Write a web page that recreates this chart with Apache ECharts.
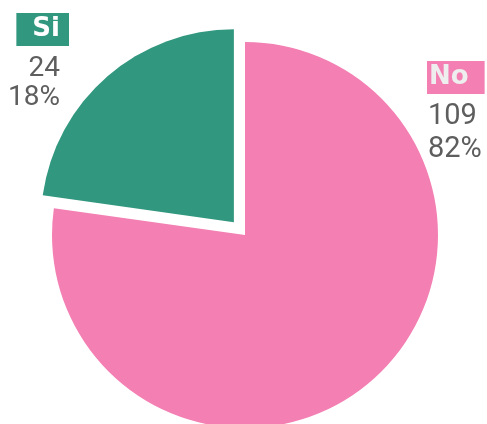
<!DOCTYPE html>
<html>
<head>
<meta charset="utf-8">
<script src="https://cdn.jsdelivr.net/npm/echarts@6/dist/echarts.min.js"></script>
<style>html,body{margin:0;padding:0;background:#fff;}#c{width:487px;height:424px;}</style>
</head>
<body>
<div id="c"></div>
<script>
const categories = ['No', 'Si'];
const values = [109, 24];
const percents = ['82%', '18%'];
const colors = ['#F37FB3', '#32977F'];

const chart = echarts.init(document.getElementById('c'), null, {renderer: 'canvas'});
const nameFont = 'DejaVu Sans';
const valFont = 'Roboto';

function richFor(i, side) {
  const left = side === 'left';
  const padR = left ? 9 : 0;
  const nPad = left ? [0, 9, 0, 16] : [0, 16, 0, 2];
  const fs = left ? 28 : 29;
  return {
    n: {fontFamily: nameFont, fontWeight: 'bold', fontSize: 26, height: 33, lineHeight: 33,
        color: i === 0 ? '#EEEEEE' : '#FFFFFF', backgroundColor: colors[i], padding: nPad},
    v1: {fontFamily: valFont, fontWeight: 'normal', fontSize: fs, lineHeight: left ? 45 : 45,
         color: '#5E5E5E', padding: [0, padR, 0, 1]},
    v2: {fontFamily: valFont, fontWeight: 'normal', fontSize: fs, lineHeight: left ? 14 : 21,
         color: '#5E5E5E', padding: [0, padR, 0, 1]}
  };
}

function labelText(i) {
  return '{n|' + categories[i] + '}\n{v1|' + values[i] + '}\n{v2|' + percents[i] + '}';
}

chart.setOption({
  animation: false,
  title: [
    { // No label (right side)
      text: labelText(0), left: 427, top: 61, padding: 0, textAlign: 'left',
      textStyle: {fontWeight: 'normal', rich: richFor(0, 'right')}
    },
    { // Si label (left side)
      text: labelText(1), left: 69, top: 13, padding: 0, textAlign: 'right',
      textStyle: {fontWeight: 'normal', rich: richFor(1, 'left')}
    }
  ],
  series: [{
    type: 'pie',
    center: [245, 235],
    radius: 193,
    startAngle: 90,
    clockwise: true,
    minAngle: 82,
    selectedMode: 'single',
    selectedOffset: 17,
    emphasis: {disabled: true},
    label: {show: false},
    labelLine: {show: false},
    data: categories.map((c, i) => ({
      name: c,
      value: values[i],
      selected: c === 'Si',
      itemStyle: {color: colors[i]}
    }))
  }]
});
</script>
</body>
</html>
